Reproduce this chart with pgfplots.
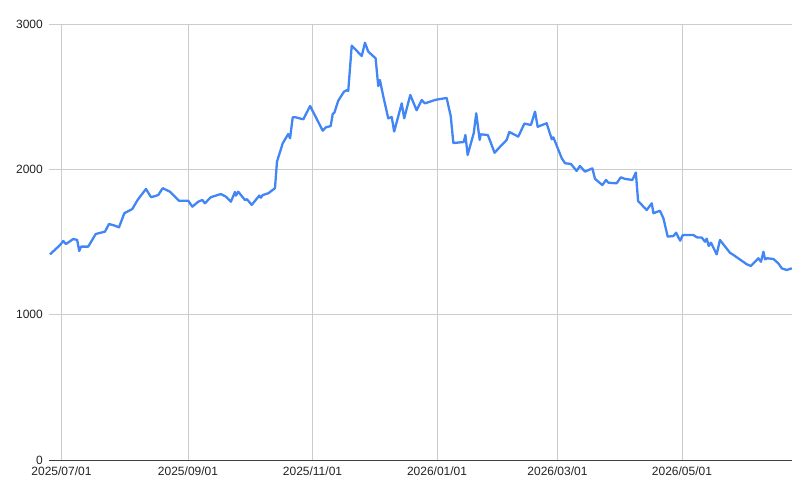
\documentclass[border=0pt]{standalone}
\usepackage{pgfplots}
\pgfplotsset{compat=1.18}
\usepackage{fontspec}
\setmainfont{Liberation Sans}
\definecolor{linecol}{HTML}{4285F4}
\definecolor{gridcol}{HTML}{CCCCCC}
\definecolor{labcol}{HTML}{222222}
\begin{document}
\begin{tikzpicture}
\begin{axis}[
  scale only axis,
  width=743pt, height=436pt,
  xmin=-6.1, xmax=357.9,
  ymin=0, ymax=3000,
  xtick={0,62,123,184,243,304},
  xticklabels={2025/07/01,2025/09/01,2025/11/01,2026/01/01,2026/03/01,2026/05/01},
  ytick={1000,2000,3000},
  extra y ticks={0},
  extra y tick style={grid style={draw=black!75, line width=1pt}},
  grid=major,
  grid style={draw=gridcol, line width=0.9pt},
  axis line style={draw=none},
  major tick length=0pt,
  tick label style={font=\fontsize{12}{14}\selectfont, text=labcol, inner sep=0pt},
  xticklabel shift=7pt,
  yticklabel shift=6pt,
  /pgf/number format/assume math mode=true,
  /pgf/number format/1000 sep={},
  clip=false,
]
\addplot[color=linecol, line width=2.3pt, no markers, line join=round] coordinates {
(-5.6,1415) (-0.7,1479) (0.9,1507) (2.2,1486) (5.8,1521) (7.7,1514) (8.7,1438) (9.6,1468)
(13.1,1468) (16.8,1555) (21.3,1571) (23.3,1624) (26.2,1612) (28.2,1601) (30.8,1698) (34.7,1727)
(37.3,1789) (41.4,1865) (43.9,1808) (47.4,1823) (49.6,1870) (53.2,1846) (57.6,1784) (62.1,1784)
(64.1,1743) (67.0,1777) (69.0,1789) (70.3,1766) (73.1,1808) (78.1,1830) (80.6,1812) (83.0,1777)
(85.0,1844) (85.5,1819) (86.6,1846) (89.9,1789) (90.9,1794) (93.2,1755) (96.9,1819) (97.7,1805)
(98.6,1823) (101.3,1835) (104.6,1870) (105.6,2053) (108.4,2179) (111.1,2243) (112.0,2214) (113.3,2358)
(114.7,2358) (118.5,2344) (121.8,2436) (128.0,2266) (129.6,2289) (131.9,2298) (132.9,2381) (133.7,2390)
(135.6,2472) (138.4,2534) (140.0,2546) (140.5,2539) (142.2,2851) (147.1,2780) (148.7,2871) (150.3,2810)
(153.9,2764) (155.2,2573) (156.0,2615) (157.7,2500) (160.1,2351) (161.8,2360) (163.0,2260) (166.7,2454)
(167.9,2351) (170.9,2512) (174.0,2406) (176.5,2477) (178.0,2454) (183.5,2479) (188.7,2491) (190.7,2367)
(192.0,2181) (197.1,2188) (197.9,2236) (199.0,2099) (202.0,2250) (203.2,2386) (204.9,2202) (205.4,2241)
(208.9,2236) (212.2,2114) (215.7,2168) (218.1,2202) (219.4,2257) (223.8,2225) (226.8,2315) (230.0,2305)
(232.0,2397) (233.3,2293) (237.7,2317) (240.2,2207) (241.0,2220) (245.1,2076) (246.7,2042) (249.6,2037)
(252.4,1989) (254.0,2023) (256.5,1984) (260.1,2007) (261.4,1934) (265.0,1892) (266.8,1927) (267.9,1908)
(272.0,1904) (274.0,1945) (276.1,1934) (279.7,1927) (281.4,1978) (282.5,1782) (286.7,1720) (289.2,1766)
(290.0,1698) (293.2,1715) (294.9,1663) (297.0,1537) (299.8,1541) (301.1,1564) (303.1,1509) (304.4,1548)
(309.6,1548) (311.3,1532) (313.7,1530) (315.3,1502) (316.1,1523) (317.1,1473) (318.2,1495) (321.0,1415)
(322.6,1514) (327.5,1426) (329.2,1411) (335.7,1347) (337.7,1335) (341.4,1388) (342.7,1364) (343.9,1433)
(344.7,1381) (345.8,1388) (348.8,1383) (351.2,1353) (352.9,1319) (355.3,1307) (357.8,1319)
};
\end{axis}
\useasboundingbox (-49pt,-35pt) rectangle (751pt,460pt);
\end{tikzpicture}
\end{document}
